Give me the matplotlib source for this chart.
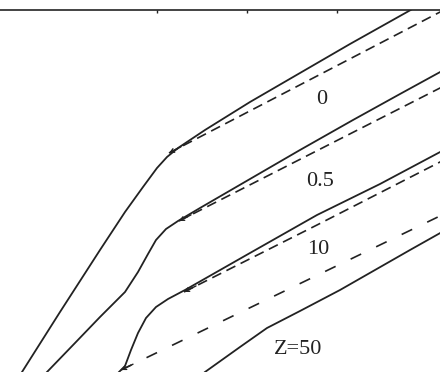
import matplotlib.pyplot as plt

# values (x, y in the picture's own units, y grows downward)
z0_x = [22, 60, 100, 125, 143, 157, 167, 178, 205, 250, 300, 350, 416]
z0_y = [372, 312, 250, 212, 187, 168, 157, 148, 130, 102, 73, 44, 7]
z0_tan_x = [169, 442]
z0_tan_y = [153, 11]

z05_x = [47, 75, 100, 125, 138, 148, 156, 166, 178, 200, 250, 300, 353, 400, 442]
z05_y = [372, 343, 317, 292, 272, 254, 240, 229, 221, 208, 179, 150, 120, 94, 71]
z05_tan_x = [179, 442]
z05_tan_y = [221, 87]

z10_x = [119, 125, 131, 138, 146, 156, 168, 185, 250, 317, 380, 442]
z10_y = [372, 366, 350, 333, 318, 307, 299, 290, 253, 215, 184, 151]
z10_tan_x = [184, 317, 442]
z10_tan_y = [292, 225, 161]

z50_x = [205, 240, 267, 300, 340, 410, 442]
z50_y = [372, 347, 328, 311, 290, 250, 232]
z50_tan_x = [121, 442]
z50_tan_y = [370, 215]

labels = ["0", "0.5", "10", "Z=50"]
label_x = [322, 320, 318, 298]
label_y = [99, 181, 249, 349]

top_ticks = [157, 247, 337]

ink = "#222222"

fig = plt.figure(figsize=(4.4, 3.72), dpi=100)
ax = fig.add_axes([0, 0, 1, 362 / 372])
ax.set_xlim(0, 440)
ax.set_ylim(372, 10)

for sx, sy, tx, ty, dash in [
    (z0_x, z0_y, z0_tan_x, z0_tan_y, (6, 3.5)),
    (z05_x, z05_y, z05_tan_x, z05_tan_y, (6, 3.5)),
    (z10_x, z10_y, z10_tan_x, z10_tan_y, (6, 3.5)),
    (z50_x, z50_y, z50_tan_x, z50_tan_y, (7, 10)),
]:
    ax.plot(sx, sy, color=ink, lw=1.3, solid_joinstyle="round")
    ax.plot(tx, ty, color=ink, lw=1.2, dashes=dash)
    # small arrowhead where the dashed tangent meets the curve
    ax.annotate("", xy=(tx[0], ty[0]),
                xytext=(tx[0] + 12, ty[0] + (ty[1] - ty[0]) * 12 / (tx[1] - tx[0])),
                arrowprops=dict(arrowstyle="->", color=ink, lw=1.0,
                                mutation_scale=7, shrinkA=0, shrinkB=0))

for t, x, y in zip(labels, label_x, label_y):
    ax.text(x, y, t, ha="center", va="center", fontsize=16,
            family="Liberation Serif", color=ink)

for s in ["left", "right", "bottom"]:
    ax.spines[s].set_visible(False)
ax.spines["top"].set_color(ink)
ax.spines["top"].set_linewidth(1.2)
ax.xaxis.tick_top()
ax.set_xticks(top_ticks)
ax.tick_params(axis="x", direction="in", length=2.5, width=1, color=ink,
               labeltop=False, labelbottom=False)
ax.set_yticks([])

fig.savefig("out.png", dpi=100)
